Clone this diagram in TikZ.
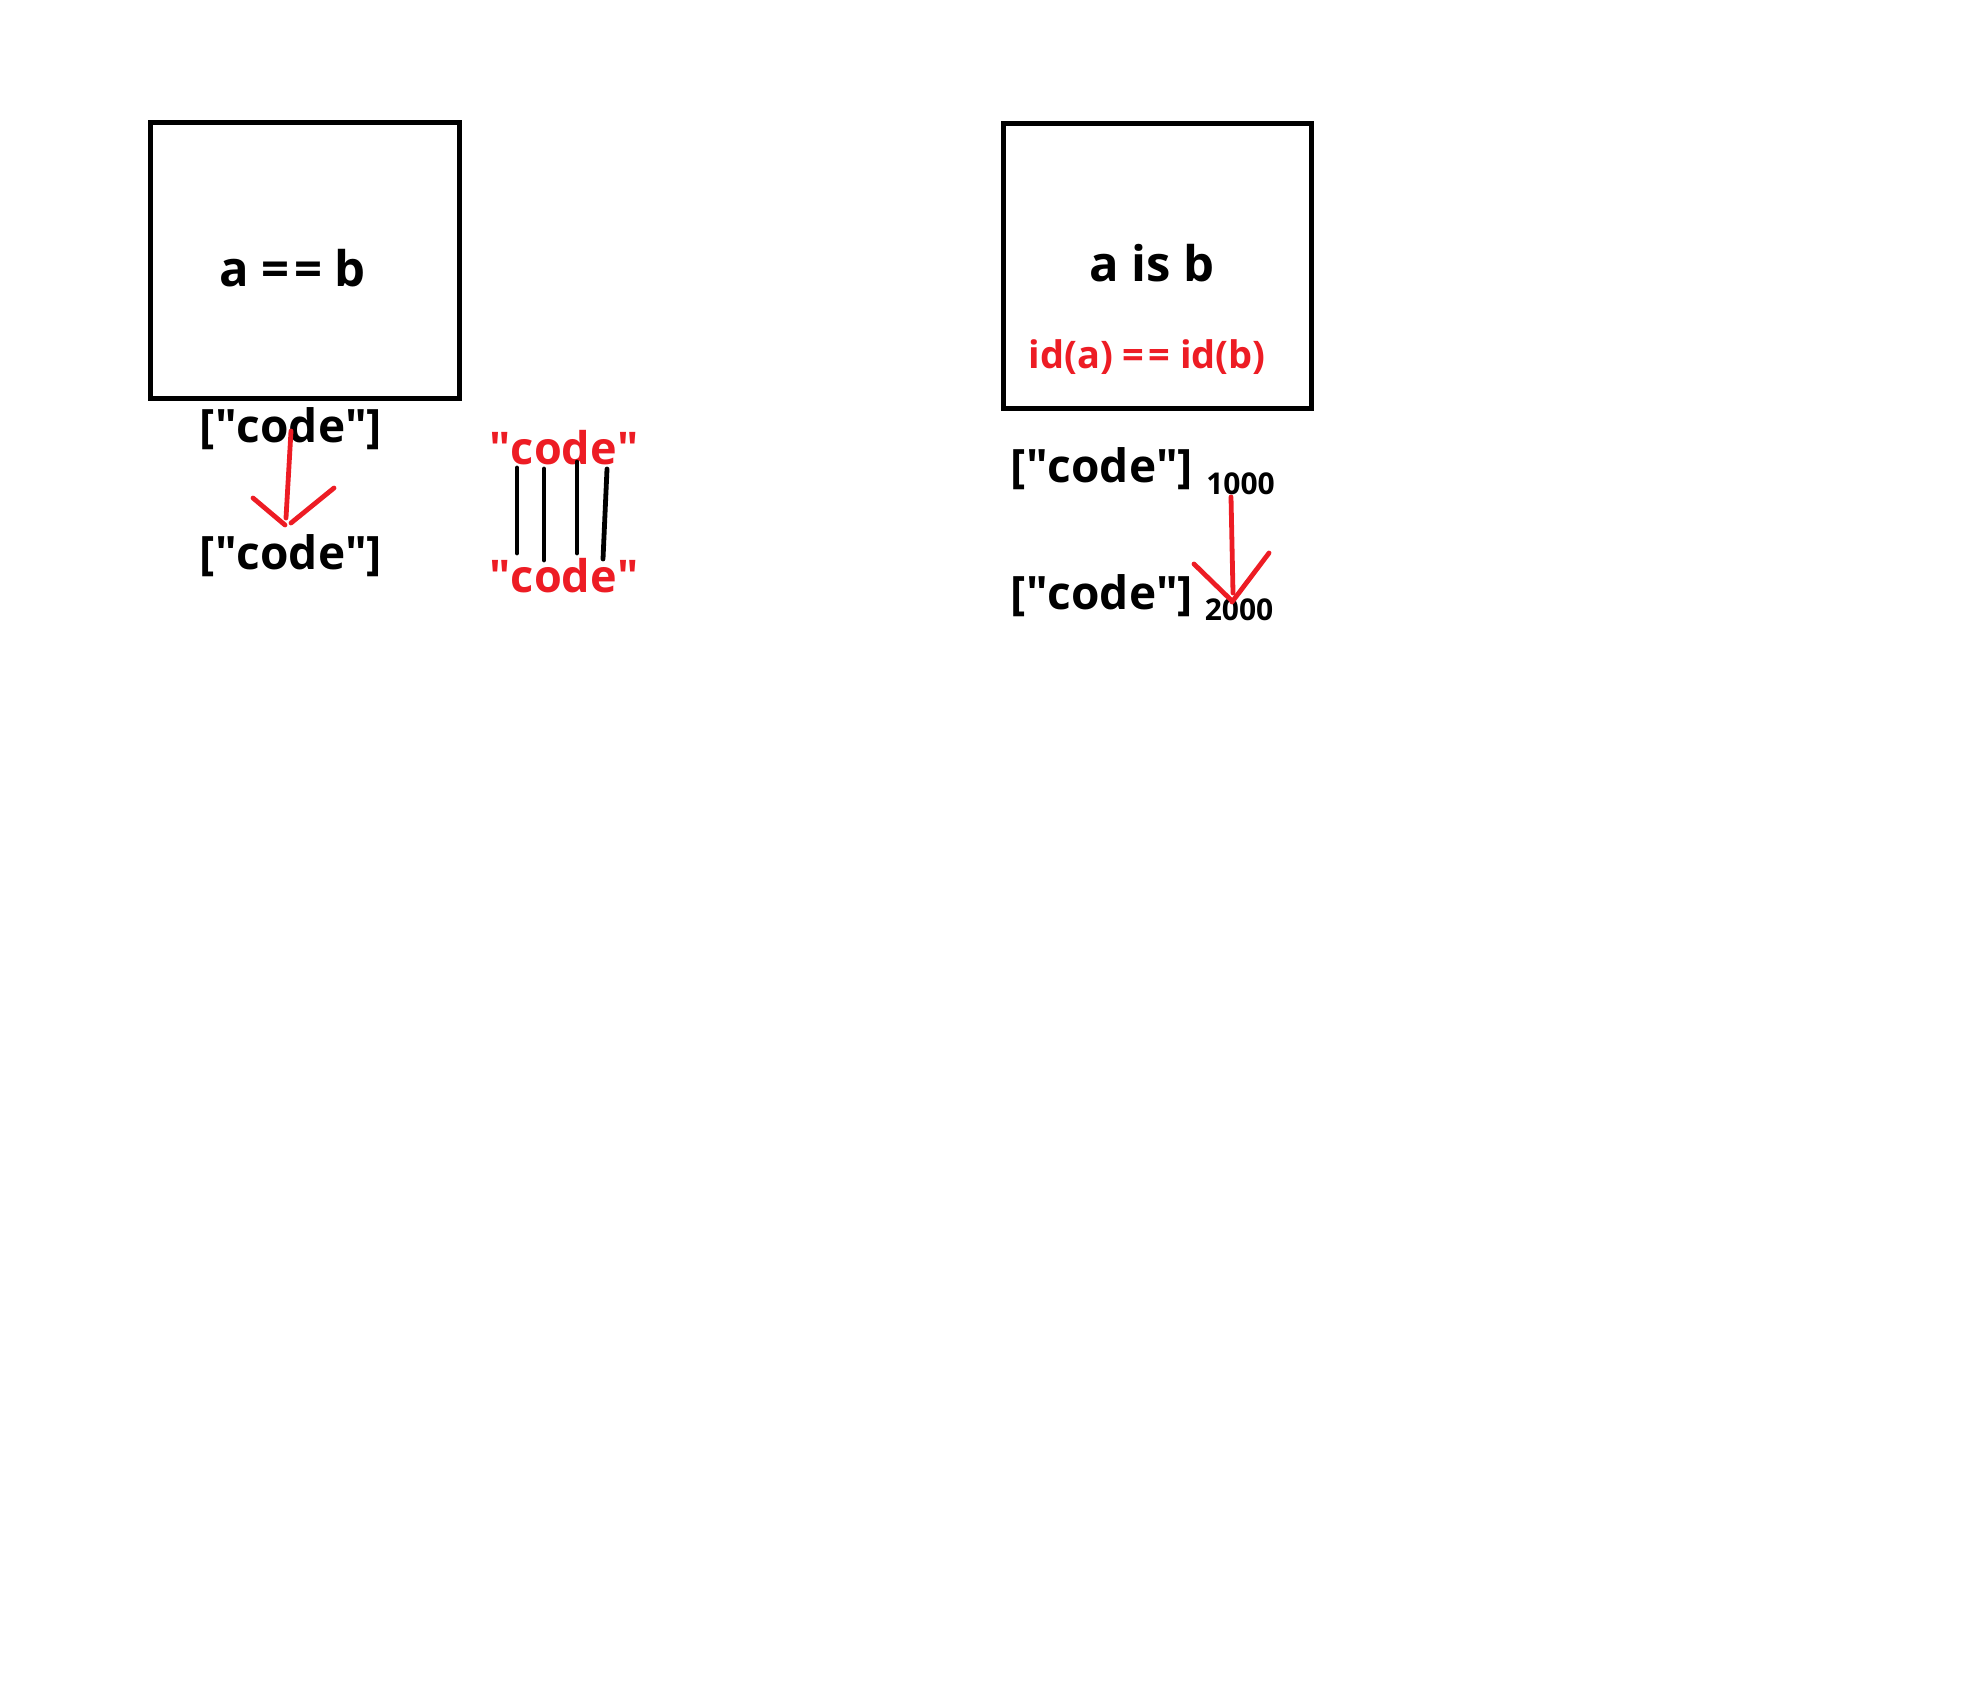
\documentclass[tikz,border=0pt]{standalone}
\usepackage{fontspec}
\setmainfont{Open Sans}
\definecolor{pred}{RGB}{237,28,36}
\newcommand{\dq}{\XeTeXglyph\XeTeXcharglyph"22\relax}
\begin{document}
\begin{tikzpicture}[x=1pt,y=-1pt,
  frame/.style={draw=black,line width=5pt,rectangle,inner sep=0pt},
  lbl/.style={inner sep=0pt,anchor=base,font=\bfseries\fontsize{46}{55}\selectfont},
  big/.style={inner sep=0pt,anchor=base,font=\bfseries\fontsize{49}{58}\selectfont},
  redlbl/.style={inner sep=0pt,anchor=base,text=pred,font=\bfseries\fontsize{45}{54}\selectfont},
  idlbl/.style={inner sep=0pt,anchor=base,text=pred,font=\bfseries\fontsize{38}{46}\selectfont},
  addr/.style={inner sep=0pt,anchor=base,font=\bfseries\fontsize{30}{36}\selectfont},
  redpen/.style={draw=pred,line width=4.8pt,line cap=round},
  blackpen/.style={draw=black,line width=4.8pt,line cap=round}]
\useasboundingbox (0,0) rectangle (1969,1704);
% left box
\node[frame,minimum width=309pt,minimum height=275pt] (box1) at (304.5,260.5) {};
\node[big] (eq) at (292.5,286) {a =\kern5pt= b};
\node[lbl] (c1) at (291,442) {[\dq code\dq]};
\node[lbl] (c2) at (291,569) {[\dq code\dq]};
\coordinate (a1s) at (291,431);
\coordinate (a1e) at (286,518);
\coordinate (a1l) at (253,498);
\coordinate (a1lt) at (285,525);
\coordinate (a1r) at (334,488);
\coordinate (a1rt) at (291,523);
\draw[redpen] (a1s) -- (a1e);
\draw[redpen] (a1l) -- (a1lt);
\draw[redpen] (a1r) -- (a1rt);
% red code strings
\node[redlbl] (r1) at (564,464) {\dq code\dq};
\node[redlbl] (r2) at (564,592) {\dq code\dq};
\coordinate (l1a) at (517,468); \coordinate (l1b) at (517,553);
\coordinate (l2a) at (544,469); \coordinate (l2b) at (544,560);
\coordinate (l3a) at (577,462); \coordinate (l3b) at (577,553);
\coordinate (l4a) at (607,469); \coordinate (l4b) at (603,559);
\draw[blackpen] (l1a) -- (l1b);
\draw[blackpen] (l2a) -- (l2b);
\draw[blackpen] (l3a) -- (l3b);
\draw[blackpen] (l4a) -- (l4b);
% right box
\node[frame,minimum width=308pt,minimum height=284pt] (box2) at (1157,266) {};
\node[big] (isb) at (1152,281) {a is b};
\node[idlbl] (ids) at (1147,368) {id(a) =\kern4pt= id(b)};
\node[lbl] (c3) at (1102,482) {[\dq code\dq]};
\node[addr] (n1) at (1240.5,494) {1000};
\node[lbl] (c4) at (1102,609) {[\dq code\dq]};
\node[addr] (n2) at (1239,620) {2000};
\coordinate (a2s) at (1231,497);
\coordinate (a2e) at (1233,593);
\coordinate (a2l) at (1194,564);
\coordinate (a2lt) at (1231,600);
\coordinate (a2r) at (1269,553);
\coordinate (a2rt) at (1232,602);
\draw[redpen] (a2s) -- (a2e);
\draw[redpen] (a2l) -- (a2lt);
\draw[redpen] (a2r) -- (a2rt);
\end{tikzpicture}
\end{document}
